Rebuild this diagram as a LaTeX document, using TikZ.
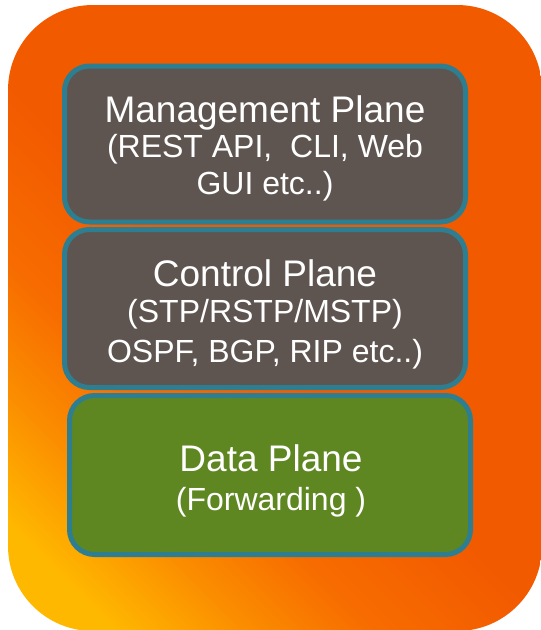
\documentclass[tikz,border=0pt]{standalone}
\usepackage{fontspec}
\setmainfont{Liberation Sans}
\definecolor{cyel}{HTML}{FFB800}
\definecolor{cor1}{HTML}{FB8E00}
\definecolor{cor2}{HTML}{F76C00}
\definecolor{cred}{HTML}{F25A00}
\definecolor{boxfill}{HTML}{5F5550}
\definecolor{greenfill}{HTML}{5E8722}
\definecolor{boxedge}{HTML}{2E7E92}
\pgfdeclareverticalshading{outershade}{100bp}{color(0bp)=(cyel); color(21bp)=(cyel); color(29bp)=(cor1); color(37bp)=(cor2); color(48bp)=(cred); color(100bp)=(cred)}
\tikzset{
  outerbox/.style={rounded corners=85pt, minimum width=534pt, minimum height=626pt, inner sep=0pt, shading=outershade, shading angle=-45},
  planebox/.style={draw=boxedge, line width=5pt, rounded corners=25pt, minimum width=401pt, inner sep=0pt, fill=boxfill},
  titletext/.style={anchor=base, text=white, font=\fontsize{37}{40}\selectfont, inner sep=0pt},
  subtext/.style={anchor=base, text=white, font=\fontsize{32}{36}\selectfont, inner sep=0pt}
}
\begin{document}
\begin{tikzpicture}[x=1pt, y=-1pt]
\useasboundingbox (0,0) rectangle (541,630);
\node[outerbox] (outer) at (275,318) {};
\node[planebox, minimum height=156pt] (mgmt) at (265,144) {};
\node[planebox, minimum height=158pt] (ctrl) at (265,308.5) {};
\node[planebox, minimum height=159pt, fill=greenfill] (data) at (270,475) {};
\node[titletext] (mgmt1) at (265,122) {Management Plane};
\node[subtext] (mgmt2) at (265,157) {(REST API,~~CLI, Web};
\node[subtext] (mgmt3) at (265,194) {GUI etc..)};
\node[titletext] (ctrl1) at (265,286) {Control Plane};
\node[subtext] (ctrl2) at (265,322) {(STP/RSTP/MSTP)};
\node[subtext] (ctrl3) at (265,362) {OSPF, BGP, RIP etc..)};
\node[titletext] (data1) at (271,471) {Data Plane};
\node[subtext] (data2) at (271,510) {(Forwarding )};
\end{tikzpicture}
\end{document}
